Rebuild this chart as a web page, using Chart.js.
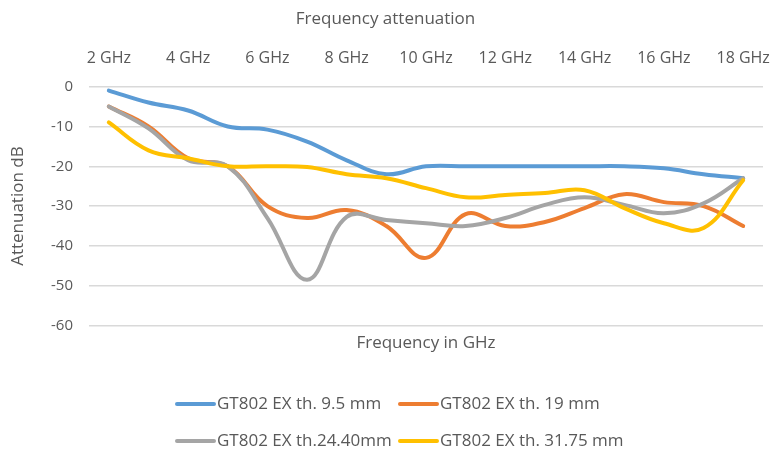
<!DOCTYPE html>
<html><head><meta charset="utf-8">
<script src="https://cdn.jsdelivr.net/npm/chart.js@4/dist/chart.umd.min.js"></script>
<style>html,body{margin:0;padding:0;background:#fff}#wrap{width:772px;height:454px}</style>
</head><body><div id="wrap"><canvas id="c"></canvas></div>
<script>
const categories = ['2 GHz','3 GHz','4 GHz','5 GHz','6 GHz','7 GHz','8 GHz','9 GHz','10 GHz','11 GHz','12 GHz','13 GHz','14 GHz','15 GHz','16 GHz','17 GHz','18 GHz'];
const seriesNames = ['GT802 EX th. 9.5 mm','GT802 EX th. 19 mm','GT802 EX th.24.40mm','GT802 EX th. 31.75 mm'];
const th95  = [-1, -4, -6, -10, -10.8, -13.8, -18.5, -22, -20, -20, -20, -20, -20, -20, -20.5, -22, -23];
const th19  = [-5, -10, -18, -20, -30, -33, -31, -35, -43, -32, -35, -34, -30.5, -27, -29, -30, -35];
const th2440= [-5, -10.5, -18.5, -20, -33, -48.5, -32.7, -33.5, -34.3, -35, -33, -29.7, -27.8, -29.7, -31.8, -29.3, -23];
const th3175= [-9, -16, -18, -20, -20, -20.2, -22, -23, -25.5, -27.8, -27.2, -26.7, -26, -30.5, -34.3, -35.5, -23.5];
const yTicks = [0,-10,-20,-30,-40,-50,-60];
const colors = ['#5B9BD5','#ED7D31','#A5A5A5','#FFC000'];
const seriesValues = [th95, th19, th2440, th3175];
const TXT = '#595959';
const FONT = "'Open Sans', sans-serif";

const legendPlugin = {
  id: 'gridLegend',
  afterDraw(chart) {
    const ctx = chart.ctx;
    const cols = [175, 398], rows = [404, 441];
    ctx.save();
    ctx.font = "17px " + FONT;
    ctx.textBaseline = 'middle';
    ctx.textAlign = 'left';
    chart.data.datasets.forEach((ds, i) => {
      const x = cols[i % 2], y = rows[Math.floor(i / 2)];
      ctx.strokeStyle = ds.borderColor;
      ctx.lineWidth = 4;
      ctx.lineCap = 'round';
      ctx.beginPath(); ctx.moveTo(x + 2, y); ctx.lineTo(x + 39, y); ctx.stroke();
      ctx.fillStyle = TXT;
      ctx.fillText(ds.label, x + 42, y);
    });
    ctx.restore();
  }
};

const noPad = (s) => { s.paddingLeft = 0; s.paddingRight = 0; };

new Chart(document.getElementById('c'), {
  type: 'line',
  data: {
    labels: categories,
    datasets: seriesNames.map((n, i) => ({
      label: n, data: seriesValues[i], borderColor: colors[i], backgroundColor: colors[i],
      borderWidth: 4, pointRadius: 0, tension: 0.4, fill: false, order: 4 - i, borderCapStyle: 'round'
    }))
  },
  plugins: [legendPlugin],
  options: {
    responsive: true, maintainAspectRatio: false, animation: false,
    layout: { padding: { left: 8, right: 9, top: 9, bottom: 101 } },
    plugins: {
      legend: { display: false },
      tooltip: { enabled: false },
      title: { display: true, text: 'Frequency attenuation', color: TXT, font: { family: FONT, size: 17, weight: 'normal' }, padding: { top: 0, bottom: 19 } }
    },
    scales: {
      x: {
        position: 'top', offset: true, afterFit: noPad,
        grid: { display: false, drawTicks: true, tickLength: 19 }, border: { display: false },
        ticks: { color: TXT, font: { family: FONT, size: 16 }, maxRotation: 0, autoSkip: false, padding: 0,
          callback: function(v, i) { return i % 2 === 0 ? this.getLabelForValue(v) : ''; } }
      },
      x2: {
        type: 'category', labels: categories, position: 'bottom', offset: true, afterFit: noPad,
        grid: { display: false, drawTicks: false }, border: { display: false }, ticks: { display: false },
        title: { display: true, text: 'Frequency in GHz', color: TXT, font: { family: FONT, size: 17 }, padding: { top: 7, bottom: 0 } }
      },
      y: {
        min: -60, max: 0,
        afterFit: (s) => { s.width = 81; },
        grid: { color: '#D9D9D9', lineWidth: 1.5, drawTicks: false }, border: { display: false },
        afterBuildTicks: (s) => { s.ticks = yTicks.map(v => ({ value: v })); },
        ticks: { color: TXT, font: { family: FONT, size: 15 }, padding: 16 },
        title: { display: true, text: 'Attenuation dB', color: TXT, font: { family: FONT, size: 17 }, padding: { top: 0, bottom: 20 } }
      }
    }
  }
});
</script></body></html>
